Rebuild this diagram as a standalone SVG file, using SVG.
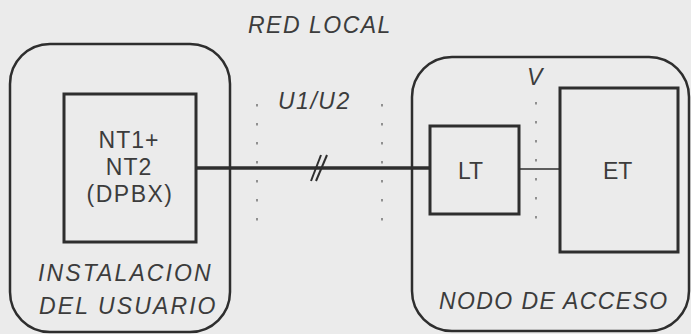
<svg xmlns="http://www.w3.org/2000/svg" width="691" height="334" viewBox="0 0 691 334">
<style>
  .t { font-family: "Liberation Sans", Arial, sans-serif; font-size: 23px; fill: #3c3c3c; }
  .i { font-style: italic; }
  .region { fill: none; stroke: #2e2e2e; stroke-width: 2.5; }
  .box { fill: none; stroke: #2e2e2e; stroke-width: 3; }
  .ref { stroke: #7a7a7a; stroke-width: 1.6; stroke-dasharray: 2.5 16.5; fill: none; }
  .link { stroke: #2e2e2e; fill: none; }
</style>
<rect width="691" height="334" fill="#ebebeb"/>

<g id="label-red-local">
  <text class="t i" x="248" y="33" letter-spacing="1.5">RED LOCAL</text>
</g>

<g id="ref-points">
  <line class="ref" x1="257" y1="104" x2="257" y2="222"/>
  <line class="ref" x1="382" y1="104" x2="382" y2="222"/>
  <line class="ref" x1="536" y1="102" x2="536" y2="222"/>
  <text class="t i" x="278" y="109" letter-spacing="1.5">U1/U2</text>
  <text class="t i" x="527" y="85">V</text>
</g>

<g id="instalacion-usuario">
  <rect class="region" x="10" y="44" width="220" height="288" rx="40" ry="40"/>
  <text class="t i" x="38" y="281" letter-spacing="2.1">INSTALACION</text>
  <text class="t i" x="39" y="314" letter-spacing="2.1">DEL USUARIO</text>
</g>

<g id="nt">
  <rect class="box" x="64" y="94" width="132" height="148"/>
  <text class="t" text-anchor="middle" x="129" y="148" letter-spacing="1">NT1+</text>
  <text class="t" text-anchor="middle" x="129" y="175" letter-spacing="1">NT2</text>
  <text class="t" text-anchor="middle" x="130" y="202" letter-spacing="1.5">(DPBX)</text>
</g>

<g id="nodo-acceso">
  <rect class="region" x="412" y="57" width="277" height="274" rx="40" ry="40"/>
  <text class="t i" x="439" y="309" letter-spacing="1.4">NODO DE ACCESO</text>
</g>

<g id="lt">
  <rect class="box" x="430" y="126" width="89" height="88"/>
  <text class="t" x="458" y="179">LT</text>
</g>

<g id="et">
  <rect class="box" x="560" y="88" width="118" height="164"/>
  <text class="t" x="603" y="179">ET</text>
</g>

<g id="connectors">
  <line class="link" x1="196" y1="168" x2="430" y2="168" stroke-width="3.5"/>
  <line class="link" x1="311" y1="181" x2="321" y2="155" stroke-width="2"/>
  <line class="link" x1="316" y1="181" x2="327" y2="155" stroke-width="2"/>
  <line class="link" x1="519" y1="169" x2="560" y2="169" stroke-width="1.5"/>
</g>
</svg>
